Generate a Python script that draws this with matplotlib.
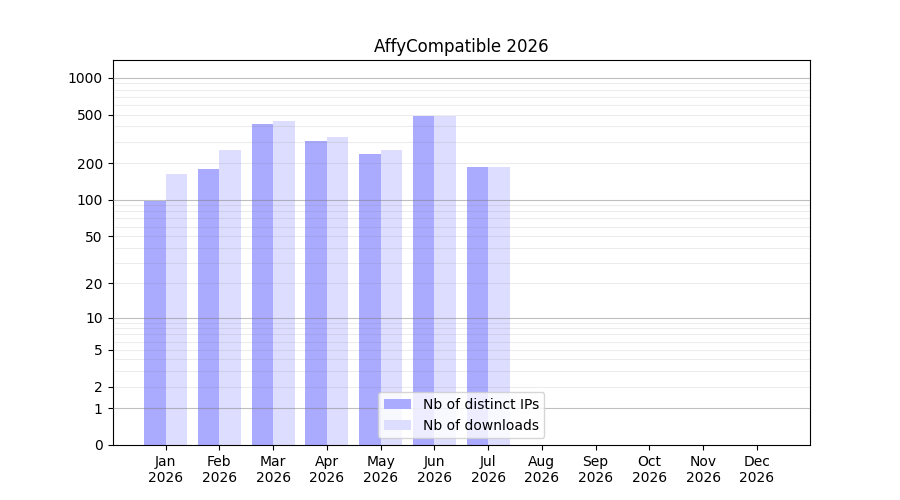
import numpy as np
import matplotlib
matplotlib.use("Agg")
import matplotlib.pyplot as plt
from matplotlib.ticker import FixedLocator, FixedFormatter

months = ["Jan", "Feb", "Mar", "Apr", "May", "Jun", "Jul", "Aug", "Sep", "Oct", "Nov", "Dec"]
year = "2026"
distinct_ips = [97, 178, 419, 304, 237, 487, 185, 0, 0, 0, 0, 0]
downloads = [162, 256, 443, 327, 256, 489, 185, 0, 0, 0, 0, 0]
yticks = [0, 1, 2, 5, 10, 20, 50, 100, 200, 500, 1000]

def fwd(v):
    return np.log10(np.asarray(v, dtype=float) + 1)

def inv(v):
    return 10 ** np.asarray(v, dtype=float) - 1

fig, ax = plt.subplots(figsize=(9, 5), dpi=100)
x = np.arange(1, len(months) + 1)
w = 0.4
ax.bar(x - w / 2, distinct_ips, width=w, color="#aaaaff", label="Nb of distinct IPs")
ax.bar(x + w / 2, downloads, width=w, color="#ddddff", label="Nb of downloads")
ax.set_yscale("function", functions=(fwd, inv))
ax.set_ylim(0, 1400)
ax.yaxis.set_major_locator(FixedLocator(yticks))
ax.yaxis.set_major_formatter(FixedFormatter([str(t) for t in yticks]))
ax.yaxis.set_minor_locator(FixedLocator([]))

for dec in [1, 10, 100, 1000]:
    ax.axhline(dec, color="gray", alpha=0.5, linewidth=0.8, zorder=3)
    if dec < 1000:
        for k in range(2, 10):
            ax.axhline(k * dec, color="gray", alpha=0.15, linewidth=0.8, zorder=3)

ax.set_xticks(x)
ax.set_xticklabels([f"{m}\n{year}" for m in months])
ax.set_title("AffyCompatible 2026")
leg = ax.legend(loc="lower center")
leg.set_zorder(5)
fig.savefig("out.png")
